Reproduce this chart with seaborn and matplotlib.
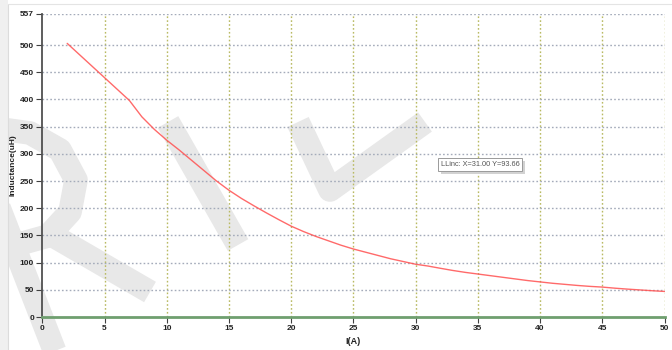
import numpy as np
import pandas as pd
import matplotlib
matplotlib.use("Agg")
import matplotlib.pyplot as plt
from matplotlib.lines import Line2D
from matplotlib.patches import Rectangle
import matplotlib.transforms as mtransforms
import seaborn as sns

# Inductance vs. current sweep
current_a = [2, 3, 4, 5, 6, 7, 8, 9, 10, 11, 12, 13, 14, 15, 16, 17, 18, 19, 20,
             21, 22, 23, 24, 25, 26, 27, 28, 29, 30, 31, 32, 33, 34, 35, 36, 37,
             38, 39, 40, 41, 42, 43, 44, 45, 46, 47, 48, 49, 50]
inductance_uh = [503, 482, 461, 440, 419, 398, 368, 345, 325, 307, 288, 269, 250,
                 233, 218, 204.5, 191.5, 179, 167, 157, 148, 140, 132, 125, 119, 113,
                 107, 102, 97, 93.66, 89.5, 85.5, 82, 79, 76, 73, 70, 67, 64.5, 62,
                 60, 58, 56.3, 55, 53, 51.3, 49.8, 48.3, 47]

x_ticks = [0, 5, 10, 15, 20, 25, 30, 35, 40, 45, 50]
y_ticks = [0, 50, 100, 150, 200, 250, 300, 350, 400, 450, 500, 557]
cursor_label = "LLinc: X=31.00 Y=93.66"

df = pd.DataFrame({"I(A)": current_a, "Inductance(uH)": inductance_uh})

sns.set_style("white")
plt.rcParams["font.family"] = ["Liberation Sans", "DejaVu Sans"]

W, H = 672, 350
fig = plt.figure(figsize=(W / 100, H / 100), dpi=100, facecolor="white")
px = mtransforms.Affine2D().scale(1 / W, -1 / H).translate(0, 1) + fig.transFigure

# window frame strip on the left
fig.patches.append(Rectangle((0, 0), 8, H, transform=px, facecolor="#f0f0f0",
                             edgecolor="none", zorder=0))
fig.add_artist(Line2D([8, 8], [4, H], transform=px, color="#dcdcdc", lw=0.8))
fig.add_artist(Line2D([8, W], [4, 4], transform=px, color="#e4e4e4", lw=0.8))

left, right, top, bottom = 42.3, 664.5, 14.0, 317.0
ax = fig.add_axes([left / W, 1 - bottom / H, (right - left) / W, (bottom - top) / H])
ax.set_facecolor("none")

# background lettering
mark_color = "#e8e8e8"
mark_strokes = [
    ([-6, 30, 60, 76, 70, 48, 12], [128, 133, 150, 180, 212, 236, 246]),
    ([50, 150], [234, 292]),
    ([-4, 55], [200, 352]),
    ([168, 238], [122, 245]),
    ([298, 330, 425], [122, 190, 122]),
]
for xs, ys in mark_strokes:
    ax.add_line(Line2D(xs, ys, transform=px, color=mark_color, lw=17,
                       solid_capstyle="butt", solid_joinstyle="round",
                       clip_on=False, zorder=0.2))

sns.lineplot(data=df, x="I(A)", y="Inductance(uH)", ax=ax, color="#ff5050",
             lw=1.0, alpha=0.85, zorder=3)

ax.set_xlim(0, 50)
ax.set_ylim(0, 557)
ax.set_xticks(x_ticks)
ax.set_yticks(y_ticks)
ax.set_xticklabels([str(t) for t in x_ticks])
ax.set_yticklabels([str(t) for t in y_ticks])

for t in x_ticks[1:]:
    ax.axvline(t, color="#b9ba62", lw=1.0, ls=(0, (1.2, 1.6)), zorder=1, snap=True)
for t in y_ticks[1:]:
    ax.axhline(t, color="#a4abba", lw=1.0, ls=(0, (1.2, 1.6)), zorder=1, snap=True)

for s in ["top", "right"]:
    ax.spines[s].set_visible(False)
ax.spines["left"].set_color("#505050")
ax.spines["left"].set_linewidth(1.3)
ax.spines["bottom"].set_color("#6f9f6f")
ax.spines["bottom"].set_linewidth(2.0)
ax.spines["bottom"].set_zorder(4)

ax.tick_params(axis="both", direction="out", length=4, width=0.8, color="#404040",
               labelsize=6, labelcolor="#222222", pad=2)
ax.tick_params(axis="y", left=True)
ax.tick_params(axis="x", bottom=True)
for lbl in ax.get_xticklabels() + ax.get_yticklabels():
    lbl.set_fontweight("bold")

ax.set_xlabel("I(A)", fontsize=6.5, fontweight="bold", color="#222222", labelpad=3)
ax.set_ylabel("Inductance(uH)", fontsize=6, fontweight="bold", color="#222222",
              labelpad=3)
ax.yaxis.set_label_coords(-25.5 / (right - left), 0.5)

# cursor readout box
fig.patches.append(Rectangle((441, 161), 84, 13, transform=px, facecolor="#d2d2d2",
                             edgecolor="none", zorder=5))
fig.patches.append(Rectangle((438, 158), 84, 13, transform=px, facecolor="white",
                             edgecolor="#9a9a9a", lw=0.7, zorder=6))
fig.text(441 / W, 1 - 164.5 / H, cursor_label, fontsize=5.3, color="#555555",
         va="center", ha="left", zorder=7)

fig.savefig("out.png", dpi=100, facecolor=fig.get_facecolor())
